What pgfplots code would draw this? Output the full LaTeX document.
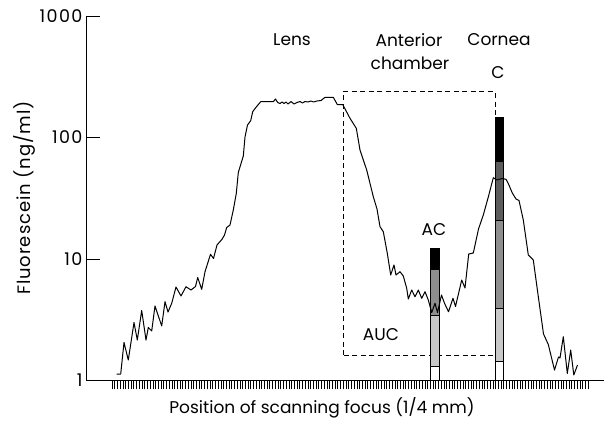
\documentclass[border=0pt]{standalone}
\usepackage{pgfplots}
\pgfplotsset{compat=1.18}
\usepackage{fontspec}
\setmainfont{Poppins}
\newfontfamily\tickfont[LetterSpace=8]{Poppins}
\newfontfamily\ylabfont[LetterSpace=5]{Poppins}
\definecolor{barblack}{HTML}{000000}
\definecolor{bardark}{HTML}{5C5C5C}
\definecolor{barmid}{HTML}{8E8E8E}
\definecolor{barlight}{HTML}{C8C8C8}
\begin{document}
\begin{tikzpicture}[font=\fontsize{17}{20}\selectfont]
\useasboundingbox (0,0) rectangle (604pt,421pt);
% y axis with long inward ticks
\begin{axis}[
  at={(86pt,40.5pt)}, anchor=south west,
  scale only axis, width=518pt, height=364.5pt,
  xmin=86, xmax=604, ymode=log, ymin=1, ymax=1000,
  axis y line=left, axis x line=none, axis line style={-, line width=0.8pt},
  ytick={1,10,100,1000}, yticklabels={1,10,100,1000},
  ytick align=inside, major tick length=14pt,
  y tick style={line width=0.8pt, black},
  yminorticks=false,
  yticklabel style={font=\tickfont\fontsize{17.5}{20}\selectfont, xshift=0pt},
]
\end{axis}
\begin{axis}[
  at={(86pt,40.5pt)}, anchor=south west,
  scale only axis, width=518pt, height=364.5pt,
  xmin=86, xmax=604, ymode=log, ymin=1, ymax=1000,
  axis x line=bottom, axis y line=none, axis line style={-, line width=0.8pt},
  clip=false,
  ytick=\empty,
  xtick align=outside, major tick length=9pt,
  xtick={112,114.72,...,588.1}, xticklabels={},
  x tick style={line width=0.6pt, black},
]
% AUC dashed box
\addplot[black, dash pattern=on 5pt off 3.5pt, line width=0.7pt] coordinates {(343.3,1.621) (343.3,238.2) (495,238.2) (495,1.621) (343.3,1.621)};
% AC bar
\addplot[draw=black, line width=0.6pt, fill=white] coordinates {(430,1) (439,1) (439,1.316) (430,1.316)} -- cycle;
\addplot[draw=black, line width=0.6pt, fill=barlight] coordinates {(430,1.316) (439,1.316) (439,3.459) (430,3.459)} -- cycle;
\addplot[draw=black, line width=0.6pt, fill=barmid] coordinates {(430,3.459) (439,3.459) (439,8.226) (430,8.226)} -- cycle;
\addplot[draw=black, line width=0.6pt, fill=barblack] coordinates {(430,8.226) (439,8.226) (439,12.25) (430,12.25)} -- cycle;
% C bar
\addplot[draw=black, line width=0.6pt, fill=white] coordinates {(495,1) (503.3,1) (503.3,1.428) (495,1.428)} -- cycle;
\addplot[draw=black, line width=0.6pt, fill=barlight] coordinates {(495,1.428) (503.3,1.428) (503.3,3.929) (495,3.929)} -- cycle;
\addplot[draw=black, line width=0.6pt, fill=barmid] coordinates {(495,3.929) (503.3,3.929) (503.3,20.94) (495,20.94)} -- cycle;
\addplot[draw=black, line width=0.6pt, fill=bardark] coordinates {(495,20.94) (503.3,20.94) (503.3,63.21) (495,63.21)} -- cycle;
\addplot[draw=black, line width=0.6pt, fill=barblack] coordinates {(495,63.21) (503.3,63.21) (503.3,145.6) (495,145.6)} -- cycle;
% fluorescein profile
\addplot[black, line width=1pt, line join=round] coordinates {
(116.7,1.131) (120.7,1.131) (124,2.055) (128.3,1.475) (134,3.002) (137.3,2.154)
(141.7,3.769) (146,2.154) (148.3,2.731) (151.7,2.556) (155,4.105) (161.7,2.810)
(165,4.452) (168,3.663) (171.7,4.319) (176,5.883) (181,4.962) (186,5.916)
(191,5.557) (195.5,5.939) (197.7,7.043) (201.7,5.631) (205,7.862) (210.5,10.93)
(213.5,10.10) (217,13.04) (222,14.53) (224.5,15.76) (226.7,18.17) (230,19.05)
(233.3,25.31) (236.3,34.73) (238.3,51.51) (243.3,70.42) (245,100.9) (247.5,126.7)
(250.7,137.5) (252.7,163.1) (256,177.3) (260.7,197.1) (273.3,197.1) (275.5,207.5)
(277.7,194.1) (280,190.5) (282,196.0) (284,190.5) (286,196.0) (288,188.7)
(291,197.8) (294,188.7) (297,194.1) (300,197.8) (302.5,192.3) (305,197.8)
(308,196.0) (311,199.7) (313.5,196.0) (317,199.7) (321,201.6) (325,214.2)
(333.3,214.2) (337.3,186.9) (342.7,186.9) (350,143.9) (356.3,119.0) (360,78.9)
(366.7,54.0) (373.3,32.57) (377,25.79) (380,18.45) (383.3,16.77) (387.3,11.14)
(390.7,7.384) (394,8.925) (396,7.384) (400,7.862) (403.3,7.246) (406.7,5.740)
(408.3,4.686) (411.7,5.557) (415,4.895) (418.3,5.557) (421.7,4.749) (425,5.382)
(428.3,4.598) (431.7,3.628) (435,4.319) (437.5,3.628) (441.5,5.055) (444.5,4.319)
(448.5,3.684) (453,4.749) (455.5,4.066) (461.7,6.716) (465,5.773) (468.7,10.99)
(473.3,11.20) (478.5,17.66) (483.3,23.02) (488.3,32.38) (493.3,46.69) (497,44.70)
(502,45.99) (506,45.29) (508.3,41.82) (512.3,34.93) (516,31.17) (519,30.30)
(523.3,20.94) (528.3,10.79) (533.3,9.81) (538.3,4.895) (543.5,2.414) (548.3,1.979)
(554.5,1.220) (558.5,1.561) (560,1.532) (563.3,2.294) (567.3,1.142) (570.7,1.782)
(573.8,1.110) (577.5,1.341)
};
\end{axis}
\node at (292pt,381pt) {Lens};
\node at (409pt,381pt) {Anterior};
\node at (410pt,358pt) {chamber};
\node at (499pt,381pt) {Cornea};
\node at (498pt,348pt) {C};
\node at (434pt,191pt) {AC};
\node at (381pt,86pt) {AUC};
\node at (322pt,13pt) {Position of scanning focus (1/4 mm)};
\node[rotate=90, font=\ylabfont\fontsize{18}{21}\selectfont] at (24pt,223pt) {Fluorescein (ng/ml)};
\end{tikzpicture}
\end{document}
